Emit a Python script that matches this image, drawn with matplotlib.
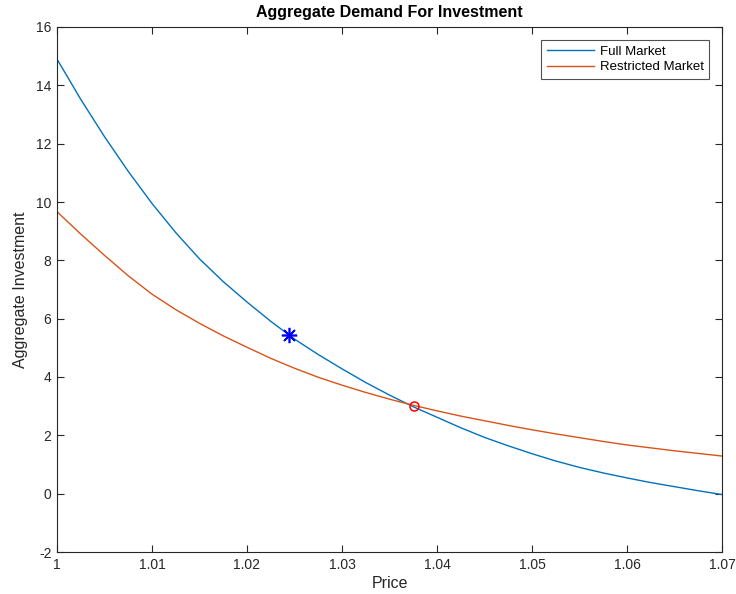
import matplotlib
matplotlib.use("Agg")
import matplotlib.pyplot as plt
from matplotlib.ticker import FixedLocator

plt.rcParams['font.family'] = ['Liberation Sans', 'DejaVu Sans']
plt.rcParams['axes.unicode_minus'] = False

# Price grid and aggregate investment demand for each market
price = [1.0000, 1.0025, 1.0050, 1.0075, 1.0100, 1.0125, 1.0150, 1.0175,
         1.0200, 1.0225, 1.0250, 1.0275, 1.0300, 1.0325, 1.0350, 1.0375,
         1.0400, 1.0425, 1.0450, 1.0475, 1.0500, 1.0525, 1.0550, 1.0575,
         1.0600, 1.0625, 1.0650, 1.0675, 1.0700]
full_market = [14.90, 13.52, 12.24, 11.05, 9.95, 8.95, 8.05, 7.27,
               6.57, 5.91, 5.30, 4.77, 4.28, 3.81, 3.38, 2.98,
               2.62, 2.26, 1.93, 1.64, 1.37, 1.12, 0.90, 0.71,
               0.54, 0.38, 0.24, 0.10, -0.03]
restricted_market = [9.67, 8.90, 8.17, 7.47, 6.84, 6.31, 5.84, 5.41,
                     5.02, 4.64, 4.30, 3.99, 3.72, 3.47, 3.24, 3.03,
                     2.84, 2.66, 2.50, 2.34, 2.19, 2.05, 1.92, 1.79,
                     1.67, 1.57, 1.47, 1.38, 1.29]

# Highlighted points
star_point = (1.0244, 5.44)
cross_point = (1.0376, 3.02)

x_ticks = [1, 1.01, 1.02, 1.03, 1.04, 1.05, 1.06, 1.07]
x_tick_labels = ['1', '1.01', '1.02', '1.03', '1.04', '1.05', '1.06', '1.07']
y_ticks = [-2, 0, 2, 4, 6, 8, 10, 12, 14, 16]

fig = plt.figure(figsize=(7.36, 5.94), dpi=100)
ax = fig.add_axes([57 / 736, 1 - 552 / 594, (722 - 57) / 736, (552 - 27) / 594])

ax.plot(price, full_market, color='#0072BD', lw=1.0, label='Full Market')
ax.plot(price, restricted_market, color='#D95319', lw=1.0, label='Restricted Market')
ax.plot(*star_point, marker=(8, 2, 0), linestyle='none', color='blue',
        markersize=11, markeredgewidth=1.2)
ax.plot(*cross_point, marker='o', linestyle='none', markerfacecolor='none',
        markeredgecolor='red', markersize=6.5, markeredgewidth=1.1)

ax.set_xlim(1, 1.07)
ax.set_ylim(-2, 16)
ax.xaxis.set_major_locator(FixedLocator(x_ticks))
ax.set_xticklabels(x_tick_labels)
ax.yaxis.set_major_locator(FixedLocator(y_ticks))
ax.tick_params(direction='in', top=True, right=True, length=5, width=0.8,
               labelsize=10, colors='#262626', pad=4)
for spine in ax.spines.values():
    spine.set_color('#262626')
    spine.set_linewidth(0.8)

ax.set_xlabel('Price', fontsize=11.5, color='#262626', labelpad=3)
ax.set_ylabel('Aggregate Investment', fontsize=11.5, color='#262626', labelpad=6)
ax.set_title('Aggregate Demand For Investment', fontsize=11.5, fontweight='bold',
             pad=7)

leg = ax.legend(loc='upper right', fontsize=9.5, frameon=True, fancybox=False,
                edgecolor='#262626', borderpad=0.4, labelspacing=0.25,
                handlelength=3.6, handletextpad=0.4, borderaxespad=1.0)
leg.get_frame().set_linewidth(0.8)

fig.savefig('out.png', dpi=100)
